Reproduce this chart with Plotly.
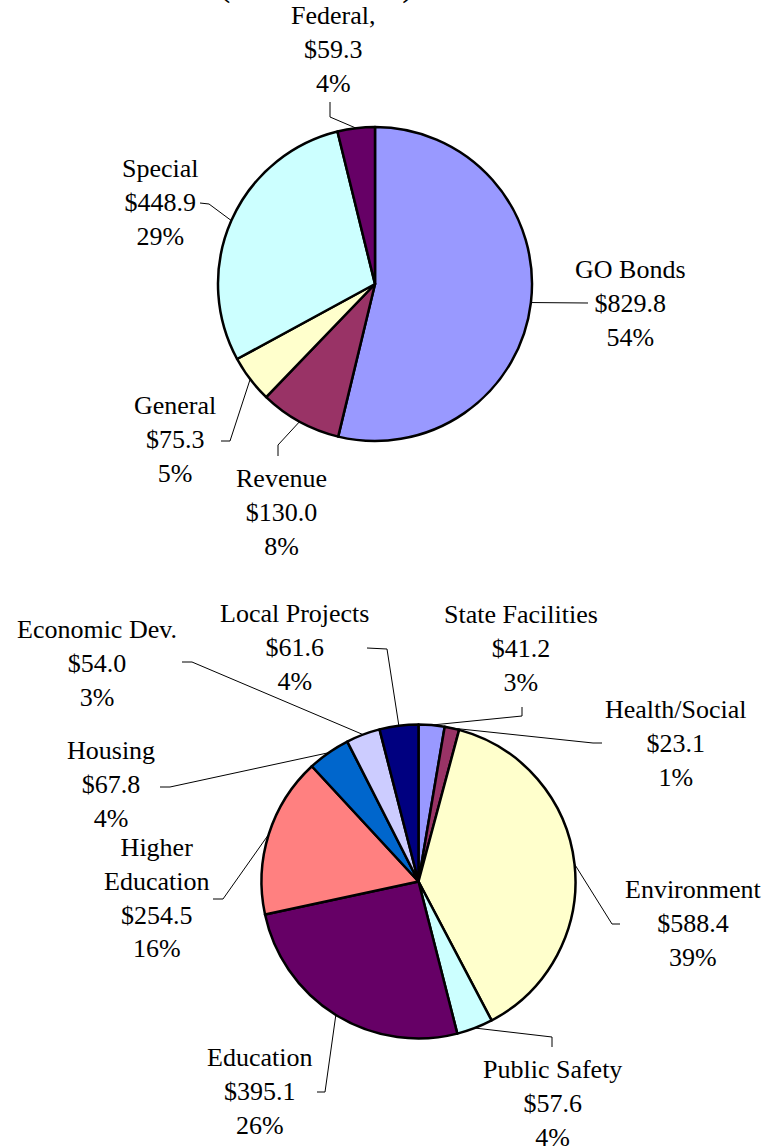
import math
import plotly.graph_objects as go

# ---------------- data ----------------
source_labels = ["GO Bonds", "Revenue", "General", "Special", "Federal,"]
source_values = [829.8, 130.0, 75.3, 448.9, 59.3]
source_pcts = ["54%", "8%", "5%", "29%", "4%"]
source_colors = ["#9999FF", "#993366", "#FFFFCC", "#CCFFFF", "#660066"]

use_labels = ["State Facilities", "Health/Social", "Environment", "Public Safety",
              "Education", "Higher<br>Education", "Housing", "Economic Dev.",
              "Local Projects"]
use_values = [41.2, 23.1, 588.4, 57.6, 395.1, 254.5, 67.8, 54.0, 61.6]
use_pcts = ["3%", "1%", "39%", "4%", "26%", "16%", "4%", "3%", "4%"]
use_colors = ["#9999FF", "#993366", "#FFFFCC", "#CCFFFF", "#660066",
              "#FF8080", "#0066CC", "#CCCCFF", "#000080"]

title_text = "($ in millions)"

# ---------------- layout (pixels) ----------------
W, H = 765, 1147
TOP = dict(cx=375, cy=284, r=157)
BOT = dict(cx=418.5, cy=881.5, r=157)

# label centre positions and leader-line bend points (pixels)
top_label_pos = [(630, 303), (281, 512), (175, 440), (160, 203), (333, 50)]
top_leader = [[(588, 303)], [(278, 456), (278, 445)], [(221, 441), (230, 441)],
              [(200, 203), (209, 204)], [(330, 102), (330, 117)]]
bot_label_pos = [(521, 648), (676, 743), (693, 923), (552, 1103), (259, 1091),
                 (156, 898), (111, 785), (97, 663), (294, 647)]
bot_leader = [[(522, 707), (522, 716)], [(602, 743), (593, 743)],
              [(620, 924), (612, 924)], [(552, 1047), (552, 1037)],
              [(317, 1092), (325, 1092)], [(213, 899), (223, 899)],
              [(160, 787), (170, 787)], [(182, 662), (192, 662)],
              [(367, 648), (387, 649)]]

FONT = "Liberation Serif, Times New Roman, serif"
FS = 26


def px(x):
    return x / W


def py(y):
    return 1 - y / H


def domain(c):
    return dict(x=[px(c["cx"] - c["r"]), px(c["cx"] + c["r"])],
                y=[py(c["cy"] + c["r"]), py(c["cy"] - c["r"])])


fig = go.Figure()
for vals, labs, cols, c in [(source_values, source_labels, source_colors, TOP),
                            (use_values, use_labels, use_colors, BOT)]:
    fig.add_trace(go.Pie(
        values=vals, labels=labs, sort=False, direction="clockwise", rotation=0,
        marker=dict(colors=cols, line=dict(color="black", width=2.5)),
        textinfo="none", hoverinfo="skip", showlegend=False, domain=domain(c)))

annotations = []
shapes = []


def add_group(vals, labs, pcts, pos, leaders, c):
    total = sum(vals)
    cum = 0.0
    for v, lab, pct, (lx, ly), pts in zip(vals, labs, pcts, pos, leaders):
        ang = (cum + v / 2) / total * 2 * math.pi
        cum += v
        ex = c["cx"] + c["r"] * math.sin(ang)
        ey = c["cy"] - c["r"] * math.cos(ang)
        annotations.append(dict(
            x=px(lx), y=py(ly), xref="paper", yref="paper",
            xanchor="center", yanchor="middle", showarrow=False,
            text=f"{lab}<br>${v:.1f}<br>{pct}",
            font=dict(family=FONT, size=FS, color="black"), align="center"))
        allpts = list(pts) + [(ex, ey)]
        path = "M " + " L ".join(f"{px(x)},{py(y)}" for x, y in allpts)
        shapes.append(dict(type="path", xref="paper", yref="paper", path=path,
                           line=dict(color="black", width=1)))


add_group(source_values, source_labels, source_pcts, top_label_pos, top_leader, TOP)
add_group(use_values, use_labels, use_pcts, bot_label_pos, bot_leader, BOT)

annotations.append(dict(x=px(316), y=py(-15), xref="paper", yref="paper",
                        xanchor="center", yanchor="middle", showarrow=False,
                        text=title_text,
                        font=dict(family=FONT, size=34, color="black")))

fig.update_layout(width=W, height=H, margin=dict(l=0, r=0, t=0, b=0),
                  paper_bgcolor="white", plot_bgcolor="white",
                  annotations=annotations, shapes=shapes)

fig.write_html("out.html", config={"displayModeBar": False},
               post_script="document.body.style.margin='0';"
                           "document.body.style.overflow='hidden';")
